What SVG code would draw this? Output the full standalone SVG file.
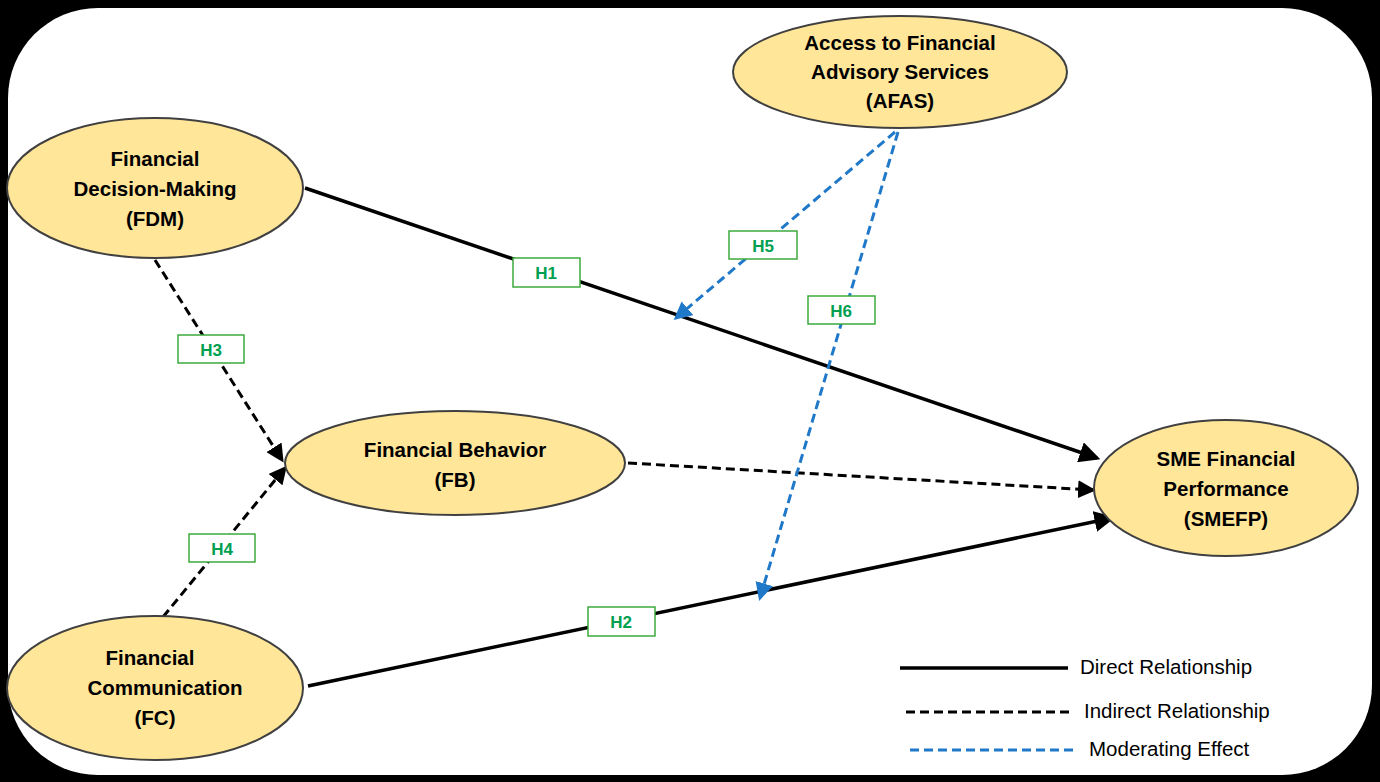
<svg xmlns="http://www.w3.org/2000/svg" width="1380" height="782" viewBox="0 0 1380 782">
<defs>
<style>
.n{fill:#FFE699;stroke:#404040;stroke-width:2}
.t{font-family:"Liberation Sans",Arial,sans-serif;font-weight:bold;font-size:20.5px;fill:#000;text-anchor:middle}
.b{fill:#fff;stroke:#3CAA3C;stroke-width:1.5}
.h{font-family:"Liberation Sans",Arial,sans-serif;font-weight:bold;font-size:17px;fill:#00A050;text-anchor:middle}
.s{stroke:#000;stroke-width:3.5;fill:none}
.d{stroke:#000;stroke-width:3;stroke-dasharray:9 5;fill:none}
.m{stroke:#1F78C8;stroke-width:3;stroke-dasharray:9 5;fill:none}
.l{font-family:"Liberation Sans",Arial,sans-serif;font-size:20.5px;fill:#000}
</style>
<marker id="ak" markerWidth="6" markerHeight="6" refX="5" refY="3" orient="auto" markerUnits="strokeWidth"><path d="M0,0L6,3L0,6Z" fill="#000"/></marker>
<marker id="ab" markerWidth="6" markerHeight="6" refX="5" refY="3" orient="auto" markerUnits="strokeWidth"><path d="M0,0L6,3L0,6Z" fill="#1F78C8"/></marker>
</defs>
<rect width="1380" height="782" fill="#000"/>
<rect x="8" y="8" width="1364" height="767" rx="90" fill="#fff"/>
<g id="connectors">
<line class="s" x1="305" y1="188" x2="1097" y2="458" marker-end="url(#ak)"/>
<line class="s" x1="308" y1="686" x2="1112" y2="518" marker-end="url(#ak)"/>
<line class="d" x1="628" y1="463" x2="1093" y2="490" marker-end="url(#ak)"/>
<line class="d" x1="155" y1="260" x2="282" y2="460" marker-end="url(#ak)"/>
<line class="d" x1="163" y1="617" x2="285" y2="468" marker-end="url(#ak)"/>
<line class="m" x1="895" y1="132" x2="676" y2="318" marker-end="url(#ab)"/>
<line class="m" x1="898" y1="132" x2="760" y2="598" marker-end="url(#ab)"/>
<rect class="b" x="513" y="258" width="67" height="29"/><text class="h" x="546" y="279">H1</text>
<rect class="b" x="588" y="607" width="67" height="29"/><text class="h" x="621" y="628">H2</text>
<rect class="b" x="178" y="335" width="66" height="28"/><text class="h" x="211" y="356">H3</text>
<rect class="b" x="189" y="534" width="66" height="28"/><text class="h" x="222" y="555">H4</text>
<rect class="b" x="729" y="231" width="68" height="28"/><text class="h" x="763" y="252">H5</text>
<rect class="b" x="808" y="296" width="67" height="28"/><text class="h" x="841" y="317">H6</text>
</g>
<g id="AFAS"><ellipse class="n" cx="900" cy="72" rx="167" ry="56"/>
<text class="t" x="900" y="50">Access to Financial</text><text class="t" x="900" y="79">Advisory Services</text><text class="t" x="900" y="108">(AFAS)</text></g>
<g id="FDM"><ellipse class="n" cx="155" cy="188" rx="148" ry="70"/>
<text class="t" x="155" y="166">Financial</text><text class="t" x="155" y="196">Decision-Making</text><text class="t" x="155" y="226">(FDM)</text></g>
<g id="FB"><ellipse class="n" cx="455" cy="463" rx="170" ry="52"/>
<text class="t" x="455" y="457">Financial  Behavior</text><text class="t" x="455" y="487">(FB)</text></g>
<g id="FC"><ellipse class="n" cx="155" cy="688" rx="148" ry="72"/>
<text class="t" x="150" y="665">Financial</text><text class="t" x="165" y="695">Communication</text><text class="t" x="155" y="725">(FC)</text></g>
<g id="SMEFP"><ellipse class="n" cx="1226" cy="488" rx="132" ry="68"/>
<text class="t" x="1226" y="466">SME Financial</text><text class="t" x="1226" y="496">Performance</text><text class="t" x="1226" y="526">(SMEFP)</text></g>
<g id="legend">
<line x1="900" y1="668" x2="1068" y2="668" stroke="#000" stroke-width="3.5"/>
<text class="l" x="1080" y="674">Direct Relationship</text>
<line x1="906" y1="712" x2="1074" y2="712" stroke="#000" stroke-width="3" stroke-dasharray="9 5"/>
<text class="l" x="1084" y="718">Indirect Relationship</text>
<line x1="910" y1="750" x2="1078" y2="750" stroke="#1F78C8" stroke-width="3" stroke-dasharray="9 5"/>
<text class="l" x="1089" y="756">Moderating Effect</text>
</g>
</svg>
